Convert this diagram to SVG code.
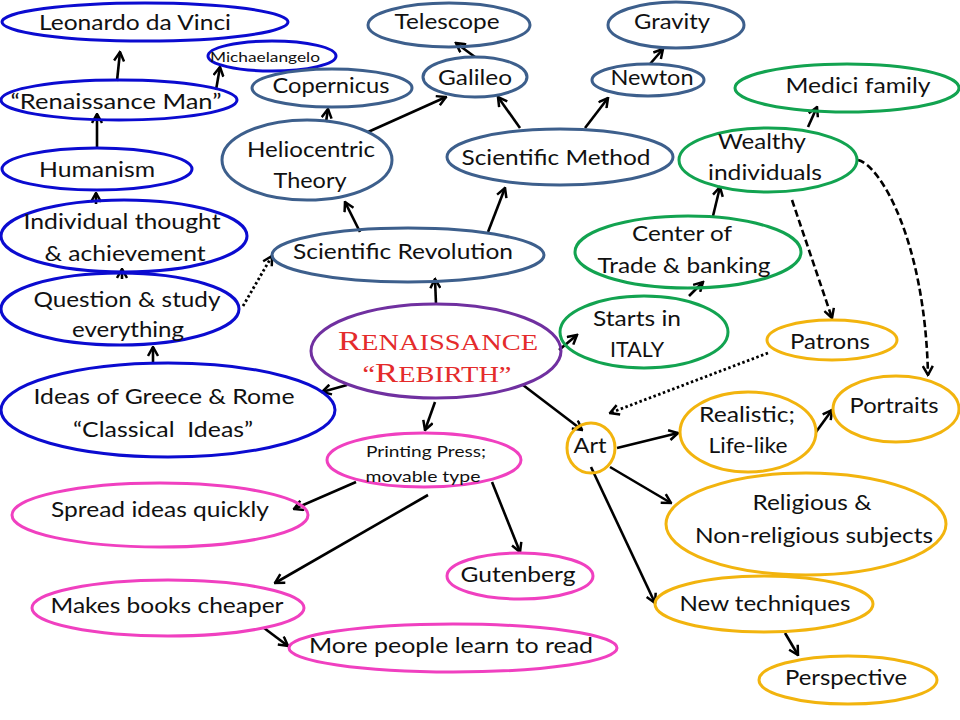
<svg xmlns="http://www.w3.org/2000/svg" width="960" height="720" viewBox="0 0 960 720">
<style>
.n ellipse{fill:none;stroke-width:3}
.bl ellipse{stroke:#0b0bd0}
.sl ellipse{stroke:#3d5f8c}
.gr ellipse{stroke:#12a350}
.yl ellipse{stroke:#f2b40e}
.pk ellipse{stroke:#f040c0}
.pu ellipse{stroke:#7030a0}
text{font-family:Lato,"Open Sans",sans-serif;font-size:21px;fill:#111;text-anchor:middle}
.sm{font-size:14px}
.md{font-size:15px}
.rt{font-family:"Liberation Serif","DejaVu Serif",serif;fill:#e42b2b;font-size:23px}
#edges line,#edges path{stroke:#000;stroke-width:2.6;fill:none}
#edges .arr{marker-end:url(#a)}
#edges .dash{stroke-dasharray:7 3.5}
#edges .dot{stroke-dasharray:2.5 2.5;stroke-width:2.8}
</style>
<defs>
<marker id="a" viewBox="0 0 12 12" refX="10.5" refY="6" markerWidth="12" markerHeight="12" markerUnits="userSpaceOnUse" orient="auto">
<path d="M1.5,1 L10.5,6 L1.5,11" fill="none" stroke="#000" stroke-width="2.5"/>
</marker>
</defs>
<rect width="960" height="720" fill="#fff"/>
<g id="edges">
<line class="arr" x1="117" y1="81" x2="120" y2="52"/>
<line class="arr" x1="216" y1="90" x2="220" y2="67"/>
<line class="arr" x1="97" y1="147" x2="97" y2="114"/>
<line class="arr" x1="96" y1="204" x2="96" y2="193"/>
<line class="arr" x1="122" y1="279" x2="122" y2="269"/>
<line class="arr" x1="153" y1="362" x2="153" y2="347"/>
<line class="arr dot" x1="243" y1="306" x2="272" y2="256"/>
<line class="arr" x1="347" y1="385" x2="322" y2="392"/>
<line class="arr" x1="435" y1="402" x2="425" y2="430"/>
<line class="arr" x1="523" y1="385" x2="582" y2="430"/>
<line class="arr" x1="559" y1="350" x2="577" y2="335"/>
<line class="arr" x1="436" y1="304" x2="435" y2="279"/>
<line class="arr" x1="360" y1="232" x2="345" y2="202"/>
<line class="arr" x1="488" y1="232" x2="505" y2="188"/>
<line class="arr" x1="326" y1="122" x2="328" y2="109"/>
<line class="arr" x1="368" y1="132" x2="446" y2="97"/>
<line class="arr" x1="520" y1="128" x2="498" y2="97"/>
<line class="arr" x1="585" y1="128" x2="608" y2="98"/>
<line class="arr" x1="475" y1="57" x2="456" y2="43"/>
<line class="arr" x1="650" y1="64" x2="663" y2="49"/>
<line class="arr" x1="689" y1="296" x2="703" y2="282"/>
<line class="arr" x1="713" y1="216" x2="720" y2="187"/>
<line class="arr" x1="808" y1="127" x2="817" y2="107"/>
<line class="arr dash" x1="792" y1="200" x2="832" y2="318"/>
<path class="arr dash" d="M858,160 C880,165 925,240 928,375"/>
<line class="arr dot" x1="768" y1="353" x2="610" y2="413"/>
<line class="arr" x1="617" y1="448" x2="678" y2="433"/>
<line class="arr" x1="816" y1="432" x2="832" y2="410"/>
<line class="arr" x1="610" y1="467" x2="671" y2="503"/>
<line class="arr" x1="591" y1="467" x2="655" y2="603"/>
<line class="arr" x1="785" y1="633" x2="798" y2="655"/>
<line class="arr" x1="356" y1="482" x2="294" y2="509"/>
<line class="arr" x1="428" y1="495" x2="275" y2="583"/>
<line class="arr" x1="492" y1="482" x2="520" y2="552"/>
<line class="arr" x1="264" y1="628" x2="288" y2="646"/>
</g>
<g id="renaissance" class="n pu"><ellipse cx="436" cy="351" rx="125" ry="47"/>
<text class="rt" x="438" y="350" textLength="200" lengthAdjust="spacingAndGlyphs"><tspan font-size="28">R</tspan>ENAISSANCE</text>
<text class="rt" x="437" y="382" textLength="149" lengthAdjust="spacingAndGlyphs">“<tspan font-size="28">R</tspan>EBIRTH”</text></g>
<g id="leonardo" class="n bl"><ellipse cx="145" cy="22" rx="143" ry="19"/><text x="135" y="30" textLength="192" lengthAdjust="spacingAndGlyphs">Leonardo da Vinci</text></g>
<g id="michaelangelo" class="n bl"><ellipse cx="272" cy="56" rx="64" ry="15"/><text class="sm" x="265" y="62" textLength="110" lengthAdjust="spacingAndGlyphs">Michaelangelo</text></g>
<g id="renaissance-man" class="n bl"><ellipse cx="119" cy="100" rx="118" ry="20"/><text x="116" y="109" textLength="211" lengthAdjust="spacingAndGlyphs">“Renaissance Man”</text></g>
<g id="humanism" class="n bl"><ellipse cx="97" cy="169" rx="95" ry="21"/><text x="97" y="177" textLength="116" lengthAdjust="spacingAndGlyphs">Humanism</text></g>
<g id="individual" class="n bl"><ellipse cx="124" cy="236" rx="123" ry="36"/><text x="122" y="229" textLength="197" lengthAdjust="spacingAndGlyphs">Individual thought</text><text x="125" y="261" textLength="161" lengthAdjust="spacingAndGlyphs">&amp; achievement</text></g>
<g id="question" class="n bl"><ellipse cx="120" cy="309" rx="119" ry="36"/><text x="127" y="307" textLength="187" lengthAdjust="spacingAndGlyphs">Question &amp; study</text><text x="128" y="337" textLength="112" lengthAdjust="spacingAndGlyphs">everything</text></g>
<g id="ideas" class="n bl"><ellipse cx="168" cy="410" rx="167" ry="47"/><text x="164" y="404" textLength="261" lengthAdjust="spacingAndGlyphs">Ideas of Greece &amp; Rome</text><text x="163" y="437" textLength="180" lengthAdjust="spacingAndGlyphs" xml:space="preserve">“Classical  Ideas”</text></g>
<g id="copernicus" class="n sl"><ellipse cx="332" cy="88" rx="80" ry="19"/><text x="331" y="93" textLength="117" lengthAdjust="spacingAndGlyphs">Copernicus</text></g>
<g id="heliocentric" class="n sl"><ellipse cx="307" cy="160" rx="85" ry="40"/><text x="311" y="157" textLength="128" lengthAdjust="spacingAndGlyphs">Heliocentric</text><text x="310" y="188" textLength="73" lengthAdjust="spacingAndGlyphs">Theory</text></g>
<g id="telescope" class="n sl"><ellipse cx="449" cy="25" rx="81" ry="22"/><text x="447" y="29" textLength="105" lengthAdjust="spacingAndGlyphs">Telescope</text></g>
<g id="galileo" class="n sl"><ellipse cx="475" cy="77" rx="52" ry="20"/><text x="475" y="85" textLength="74" lengthAdjust="spacingAndGlyphs">Galileo</text></g>
<g id="gravity" class="n sl"><ellipse cx="676" cy="25" rx="68" ry="23"/><text x="672" y="29" textLength="76" lengthAdjust="spacingAndGlyphs">Gravity</text></g>
<g id="newton" class="n sl"><ellipse cx="648" cy="80" rx="56" ry="16"/><text x="652" y="85" textLength="83" lengthAdjust="spacingAndGlyphs">Newton</text></g>
<g id="scientific-method" class="n sl"><ellipse cx="560" cy="157" rx="113" ry="28"/><text x="556" y="165" textLength="189" lengthAdjust="spacingAndGlyphs">Scientific Method</text></g>
<g id="scientific-revolution" class="n sl"><ellipse cx="408" cy="255" rx="136" ry="27"/><text x="403" y="259" textLength="220" lengthAdjust="spacingAndGlyphs">Scientific Revolution</text></g>
<g id="medici" class="n gr"><ellipse cx="847" cy="88" rx="112" ry="24"/><text x="858" y="93" textLength="145" lengthAdjust="spacingAndGlyphs">Medici family</text></g>
<g id="wealthy" class="n gr"><ellipse cx="768" cy="160" rx="89" ry="32"/><text x="762" y="149" textLength="88" lengthAdjust="spacingAndGlyphs">Wealthy</text><text x="765" y="180" textLength="114" lengthAdjust="spacingAndGlyphs">individuals</text></g>
<g id="center-trade" class="n gr"><ellipse cx="688" cy="252" rx="113" ry="36"/><text x="682" y="241" textLength="100" lengthAdjust="spacingAndGlyphs">Center of</text><text x="684" y="273" textLength="173" lengthAdjust="spacingAndGlyphs">Trade &amp; banking</text></g>
<g id="italy" class="n gr"><ellipse cx="644" cy="332" rx="84" ry="36"/><text x="637" y="326" textLength="88" lengthAdjust="spacingAndGlyphs">Starts in</text><text x="637" y="357" textLength="54" lengthAdjust="spacingAndGlyphs">ITALY</text></g>
<g id="patrons" class="n yl"><ellipse cx="832" cy="340" rx="65" ry="20"/><text x="830" y="349" textLength="80" lengthAdjust="spacingAndGlyphs">Patrons</text></g>
<g id="portraits" class="n yl"><ellipse cx="896" cy="409" rx="63" ry="33"/><text x="894" y="413" textLength="89" lengthAdjust="spacingAndGlyphs">Portraits</text></g>
<g id="art" class="n yl"><ellipse cx="591" cy="448" rx="24" ry="25"/><text x="590" y="453" textLength="33" lengthAdjust="spacingAndGlyphs">Art</text></g>
<g id="realistic" class="n yl"><ellipse cx="748" cy="432" rx="68" ry="40"/><text x="747" y="422" textLength="96" lengthAdjust="spacingAndGlyphs">Realistic;</text><text x="748" y="453" textLength="79" lengthAdjust="spacingAndGlyphs">Life-like</text></g>
<g id="religious" class="n yl"><ellipse cx="806" cy="524" rx="140" ry="51"/><text x="812" y="510" textLength="119" lengthAdjust="spacingAndGlyphs">Religious &amp;</text><text x="814" y="543" textLength="238" lengthAdjust="spacingAndGlyphs">Non-religious subjects</text></g>
<g id="new-techniques" class="n yl"><ellipse cx="764" cy="604" rx="109" ry="28"/><text x="765" y="611" textLength="171" lengthAdjust="spacingAndGlyphs">New techniques</text></g>
<g id="perspective" class="n yl"><ellipse cx="848" cy="680" rx="89" ry="24"/><text x="846" y="685" textLength="122" lengthAdjust="spacingAndGlyphs">Perspective</text></g>
<g id="printing" class="n pk"><ellipse cx="424" cy="460" rx="97" ry="27"/><text class="md" x="426" y="457" textLength="120" lengthAdjust="spacingAndGlyphs">Printing Press;</text><text class="md" x="423" y="482" textLength="115" lengthAdjust="spacingAndGlyphs">movable type</text></g>
<g id="spread" class="n pk"><ellipse cx="160" cy="515" rx="148" ry="32"/><text x="160" y="517" textLength="218" lengthAdjust="spacingAndGlyphs">Spread ideas quickly</text></g>
<g id="makes-books" class="n pk"><ellipse cx="168" cy="608" rx="136" ry="28"/><text x="167" y="613" textLength="233" lengthAdjust="spacingAndGlyphs">Makes books cheaper</text></g>
<g id="more-people" class="n pk"><ellipse cx="453" cy="648" rx="164" ry="24"/><text x="451" y="653" textLength="284" lengthAdjust="spacingAndGlyphs">More people learn to read</text></g>
<g id="gutenberg" class="n pk"><ellipse cx="520" cy="576" rx="73" ry="23"/><text x="518" y="582" textLength="115" lengthAdjust="spacingAndGlyphs">Gutenberg</text></g>
</svg>
